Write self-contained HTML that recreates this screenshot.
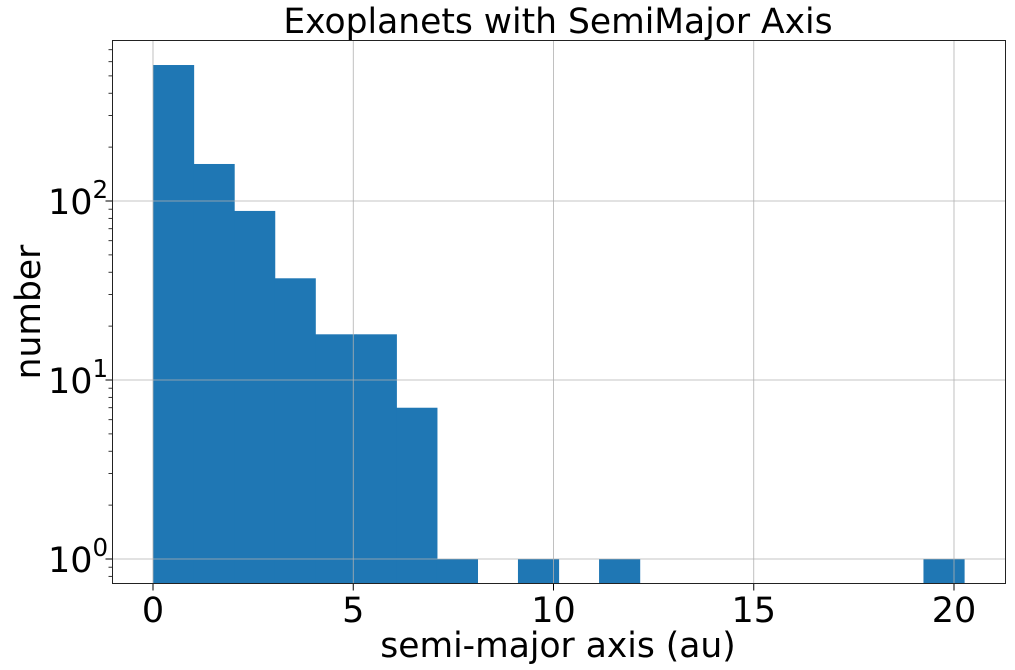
<!DOCTYPE html>
<html><head><meta charset="utf-8"><style>
html,body{margin:0;padding:0;background:#fff;width:1015px;height:670px;overflow:hidden}
svg text{font-family:"DejaVu Sans","Liberation Sans",sans-serif;fill:#000}
</style></head><body>
<svg id="chart" width="1015" height="670" xmlns="http://www.w3.org/2000/svg">
<rect x="0" y="0" width="1015" height="670" fill="#fff"/>
<g id="bars"></g>
<g id="grid"></g>
<g id="ticks"></g>
<rect x="112.5" y="40.5" width="893" height="543" fill="none" stroke="#222" stroke-width="1"/>
<text x="558" y="33" font-size="34.5" text-anchor="middle">Exoplanets with SemiMajor Axis</text>
<text x="558" y="657" font-size="34.5" text-anchor="middle">semi-major axis (au)</text>
<text transform="translate(40,312) rotate(-90)" font-size="34.5" text-anchor="middle">number</text>
</svg>
<script>
const binStart = 0;
const binWidth = 1.0125;
const counts = [575, 161, 88, 37, 18, 18, 7, 1, 0, 1, 0, 1, 0, 0, 0, 0, 0, 0, 0, 1];
const xTicks = [0, 5, 10, 15, 20];
const yTickExps = [0, 1, 2];

const NS = "http://www.w3.org/2000/svg";
const X0 = 153, XS = 40.05;
const Y0 = 559, YS = 179;
const yBottom = 583.5;
const xPx = v => X0 + v * XS;
const yPx = v => Y0 - Math.log10(v) * YS;
function mk(tag, attrs, parent){const e=document.createElementNS(NS,tag);for(const k in attrs)e.setAttribute(k,attrs[k]);parent.appendChild(e);return e;}
const bars=document.getElementById('bars'),grid=document.getElementById('grid'),ticks=document.getElementById('ticks');
counts.forEach((c,i)=>{
  if(c<=0)return;
  const x1=xPx(binStart+i*binWidth),x2=xPx(binStart+(i+1)*binWidth),yt=yPx(c);
  const r=mk('rect',{x:x1,y:yt,width:x2-x1+0.6,height:yBottom-yt,fill:'#1f77b4'},bars);
  
  
});
xTicks.forEach(t=>{
  const x=xPx(t);
  const g=mk('line',{x1:x,x2:x,y1:40.5,y2:583.5,stroke:'#b0b0b0','stroke-width':0.8},grid);
  
  
  mk('line',{x1:x,x2:x,y1:583.5,y2:590.5,stroke:'#000','stroke-width':1},ticks);
  const tx=mk('text',{x:x,y:622,'font-size':35,'text-anchor':'middle'},ticks);
  tx.textContent=t;
  
  
});
yTickExps.forEach(e=>{
  const y=yPx(Math.pow(10,e));
  const g=mk('line',{x1:112.5,x2:1005.5,y1:y,y2:y,stroke:'#b0b0b0','stroke-width':0.8},grid);
  
  
  mk('line',{x1:105.5,x2:112.5,y1:y,y2:y,stroke:'#000','stroke-width':1},ticks);
  const tx=mk('text',{x:48,y:y+13,'font-size':35,'text-anchor':'start'},ticks);
  
  
  tx.textContent='10';
  const sup=mk('tspan',{dy:-16,'font-size':24.5},tx);
  sup.textContent=e;
});
for(let e=-1;e<=2;e++){for(let m=2;m<=9;m++){
  const v=m*Math.pow(10,e),y=yPx(v);
  if(y<40.5||y>583.5)continue;
  mk('line',{x1:108.5,x2:112.5,y1:y,y2:y,stroke:'#000','stroke-width':0.8},ticks);
}}
</script>
</body></html>
